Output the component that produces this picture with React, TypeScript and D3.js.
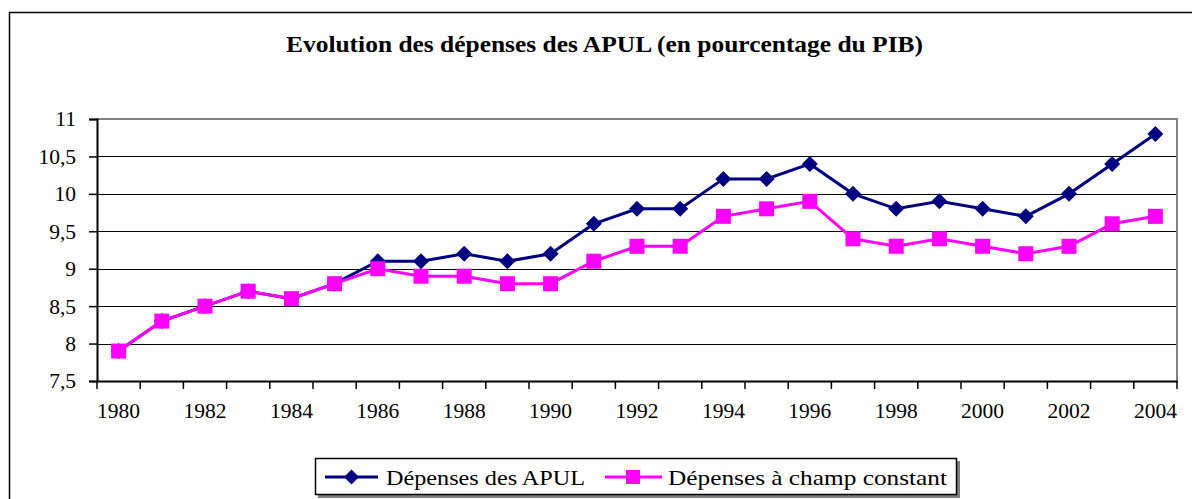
import { useRef, useEffect } from 'react'
import * as d3 from 'd3'

const years = d3.range(1980, 2005).map(String)
const apul = [7.9, 8.3, 8.5, 8.7, 8.6, 8.8, 9.1, 9.1, 9.2, 9.1, 9.2, 9.6, 9.8, 9.8, 10.2, 10.2, 10.4, 10.0, 9.8, 9.9, 9.8, 9.7, 10.0, 10.4, 10.8]
const champConstant = [7.9, 8.3, 8.5, 8.7, 8.6, 8.8, 9.0, 8.9, 8.9, 8.8, 8.8, 9.1, 9.3, 9.3, 9.7, 9.8, 9.9, 9.4, 9.3, 9.4, 9.3, 9.2, 9.3, 9.6, 9.7]
const yTicks = [7.5, 8, 8.5, 9, 9.5, 10, 10.5, 11]
const title = 'Evolution des dépenses des APUL (en pourcentage du PIB)'
const seriesNames = ['Dépenses des APUL', 'Dépenses à champ constant']

const FONT = "'Liberation Serif', 'Times New Roman', serif"
const NAVY = '#000080'
const MAGENTA = '#ff00ff'

export default function App() {
  const svgRef = useRef<SVGSVGElement>(null)
  const width = 1192
  const height = 499

  useEffect(() => {
    if (!svgRef.current) return
    const svg = d3.select(svgRef.current)
    svg.selectAll('*').remove()

    const margin = { top: 119, right: 15, bottom: 118, left: 97 }
    const x = d3.scaleBand().domain(years).range([margin.left, width - margin.right])
    const y = d3.scaleLinear().domain([7.5, 11]).range([height - margin.bottom, margin.top])
    const cx = (i: number) => (x(years[i]) as number) + x.bandwidth() / 2

    // outer frame
    svg.append('rect')
      .attr('x', 9.5).attr('y', 12.5).attr('width', 1300).attr('height', 600)
      .attr('fill', 'white').attr('stroke', 'black').attr('stroke-width', 1.5)

    svg.append('text')
      .attr('x', 286).attr('y', 52)
      .attr('textLength', 637).attr('lengthAdjust', 'spacingAndGlyphs')
      .style('font-family', FONT).attr('font-weight', 'bold').attr('font-size', 22.5)
      .text(title)

    // gridlines
    for (const t of yTicks.slice(1, -1)) {
      svg.append('line')
        .attr('x1', margin.left).attr('x2', width - margin.right)
        .attr('y1', Math.round(y(t)) + 0.5).attr('y2', Math.round(y(t)) + 0.5)
        .attr('stroke', 'black').attr('stroke-width', 1)
    }

    // plot frame (gray)
    svg.append('path')
      .attr('d', `M${margin.left},${y(11)}H${width - margin.right}V${y(7.5)}`)
      .attr('fill', 'none').attr('stroke', '#808080').attr('stroke-width', 2)

    // y axis
    const yAxis = svg.append('g')
      .attr('transform', `translate(${margin.left},0)`)
      .call(d3.axisLeft(y).tickValues(yTicks).tickSize(8).tickPadding(13)
        .tickFormat((d) => String(d).replace('.', ',')))
    yAxis.select('.domain').attr('stroke', 'black').attr('stroke-width', 2)
    yAxis.selectAll('.tick line').attr('stroke', 'black').attr('stroke-width', 1.5)
    yAxis.selectAll('text').style('font-family', FONT).attr('font-size', 21.5).attr('fill', 'black')

    // x axis
    const xAxis = svg.append('g')
      .attr('transform', `translate(0,${y(7.5)})`)
      .call(d3.axisBottom(x).tickSize(0).tickPadding(22)
        .tickFormat((d, i) => (i % 2 === 0 ? d : '')))
    xAxis.select('.domain').attr('stroke', 'black').attr('stroke-width', 2)
    xAxis.selectAll('text').style('font-family', FONT).attr('font-size', 21.5).attr('fill', 'black')
    const boundaries = [...years.map((d) => x(d) as number), width - margin.right]
    xAxis.selectAll('.bnd').data(boundaries).join('line')
      .attr('x1', (d) => d).attr('x2', (d) => d)
      .attr('y1', 0).attr('y2', 8)
      .attr('stroke', 'black').attr('stroke-width', 1.5)

    // lines
    const line = d3.line<number>().x((_, i) => cx(i)).y((d) => y(d))
    svg.append('path').datum(apul).attr('d', line)
      .attr('fill', 'none').attr('stroke', NAVY).attr('stroke-width', 3)
    svg.append('path').datum(champConstant).attr('d', line)
      .attr('fill', 'none').attr('stroke', MAGENTA).attr('stroke-width', 3)

    const diamond = (px: number, py: number, r = 8) =>
      `M${px},${py - r}L${px + r},${py}L${px},${py + r}L${px - r},${py}Z`

    svg.selectAll('.dia').data(apul).join('path')
      .attr('d', (d, i) => diamond(cx(i), y(d)))
      .attr('fill', NAVY)
    svg.selectAll('.sq').data(champConstant).join('rect')
      .attr('x', (_, i) => cx(i) - 7.5).attr('y', (d) => y(d) - 7.5)
      .attr('width', 15).attr('height', 15)
      .attr('fill', MAGENTA)

    // legend
    const lg = svg.append('g')
    lg.append('rect').attr('x', 318).attr('y', 461).attr('width', 642).attr('height', 37).attr('fill', '#808080')
    lg.append('rect').attr('x', 315.5).attr('y', 458.5).attr('width', 641).attr('height', 36)
      .attr('fill', 'white').attr('stroke', 'black').attr('stroke-width', 1.5)
    const ly = 477
    lg.append('line').attr('x1', 325).attr('x2', 378).attr('y1', ly).attr('y2', ly)
      .attr('stroke', NAVY).attr('stroke-width', 3)
    lg.append('path').attr('d', diamond(351.5, ly, 7.5)).attr('fill', NAVY)
    lg.append('text').attr('x', 386).attr('y', ly + 8)
      .attr('textLength', 199).attr('lengthAdjust', 'spacingAndGlyphs')
      .style('font-family', FONT).attr('font-size', 22).text(seriesNames[0])
    lg.append('line').attr('x1', 605).attr('x2', 662).attr('y1', ly).attr('y2', ly)
      .attr('stroke', MAGENTA).attr('stroke-width', 3)
    lg.append('rect').attr('x', 626).attr('y', ly - 7).attr('width', 14).attr('height', 14).attr('fill', MAGENTA)
    lg.append('text').attr('x', 668).attr('y', ly + 8)
      .attr('textLength', 279).attr('lengthAdjust', 'spacingAndGlyphs')
      .style('font-family', FONT).attr('font-size', 22).text(seriesNames[1])
  }, [])

  return (
    <svg ref={svgRef} width={width} height={height}
      style={{ position: 'absolute', left: 0, top: 0, background: 'white' }} />
  )
}
